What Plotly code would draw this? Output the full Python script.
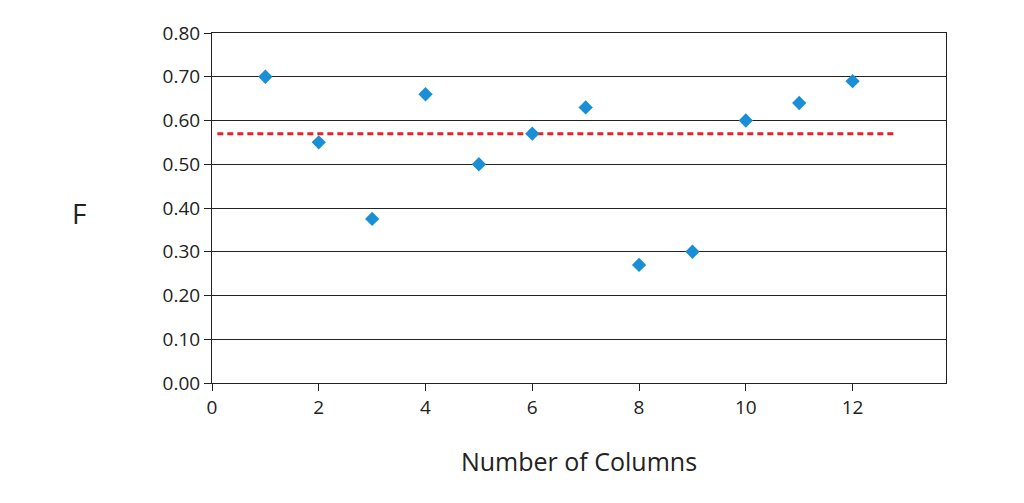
import plotly.graph_objects as go

columns = [1, 2, 3, 4, 5, 6, 7, 8, 9, 10, 11, 12]
f_values = [0.70, 0.55, 0.375, 0.66, 0.50, 0.57, 0.63, 0.27, 0.30, 0.60, 0.64, 0.69]
ref_x = [0.1, 12.8]
ref_y = [0.57, 0.57]

fig = go.Figure()
fig.add_trace(go.Scatter(x=ref_x, y=ref_y, mode="lines",
                         line=dict(color="#e8202a", width=3, dash="6px,4px"), showlegend=False))
fig.add_trace(go.Scatter(x=columns, y=f_values, mode="markers",
                         marker=dict(symbol="diamond", size=11, color="#1b8fd6"), showlegend=False))
fig.update_layout(
    width=1024, height=503, plot_bgcolor="white", paper_bgcolor="white",
    margin=dict(l=204, r=86, t=25, b=128),
    font=dict(family="Open Sans, Liberation Sans, sans-serif", size=19, color="#222"),
    xaxis=dict(range=[0, 13.75], tickvals=[0, 2, 4, 6, 8, 10, 12], showgrid=False,
               showline=True, linecolor="#222", mirror=True, ticks="outside", ticklen=7,
               tickcolor="#222", zeroline=False,
               title=dict(text="Number of Columns", font=dict(size=25), standoff=34)),
    yaxis=dict(range=[0, 0.8], tickvals=[i / 10 for i in range(9)], tickformat=".2f",
               showgrid=True, gridcolor="#222", gridwidth=1, showline=True, linecolor="#222",
               mirror=True, ticks="outside", ticklen=7, tickcolor="#222", zeroline=False),
    annotations=[dict(text="F", xref="paper", yref="paper", showarrow=False,
                      font=dict(size=28))],
)
fig.layout.annotations[0].update(x=(62 - 204) / 734, y=(375 - 205) / 350)
fig.write_html("out.html")
